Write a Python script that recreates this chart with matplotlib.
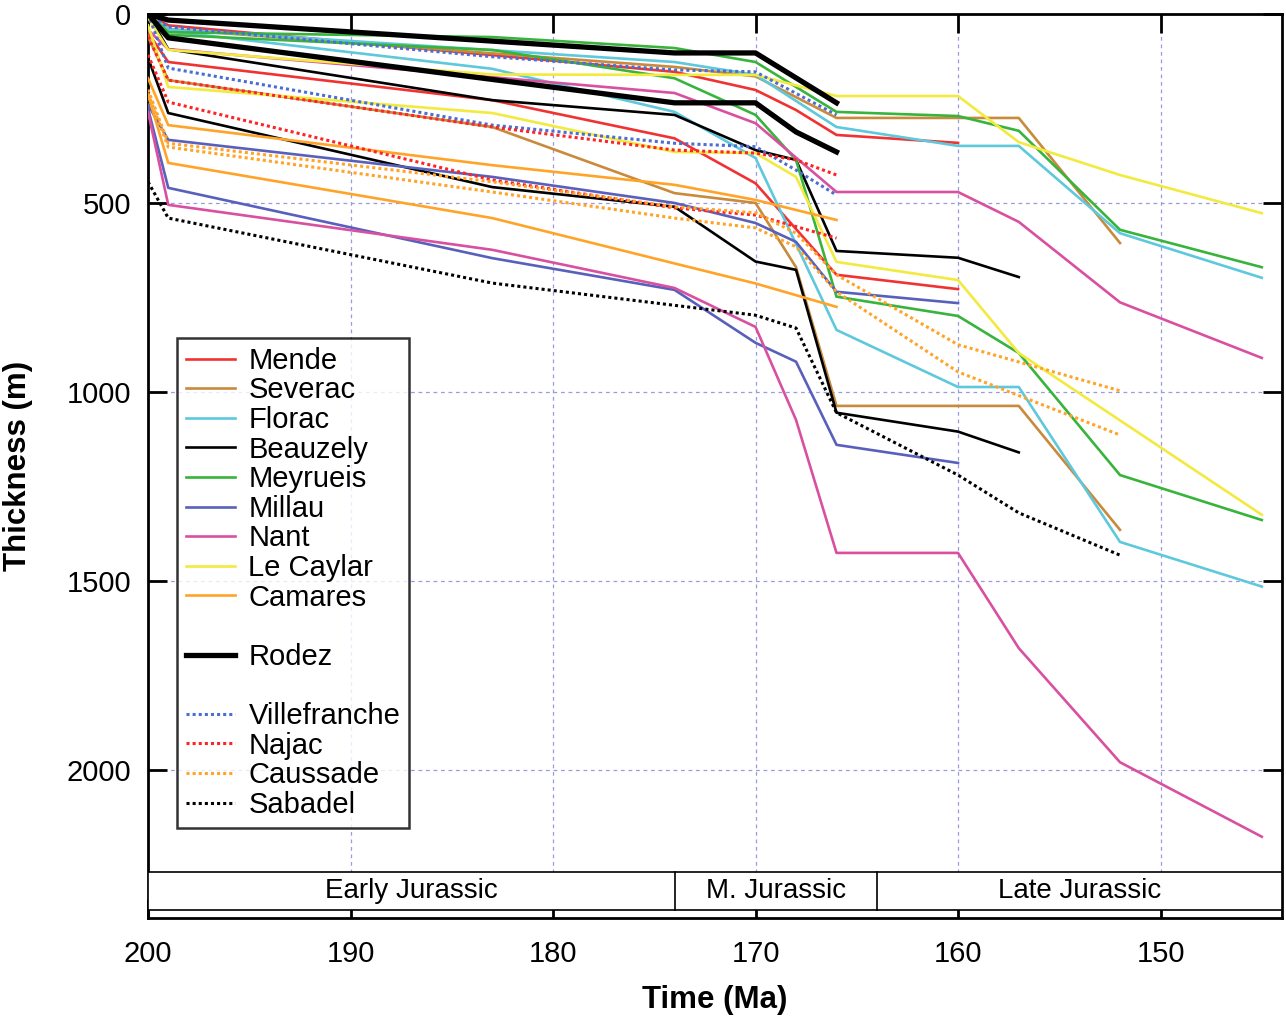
import matplotlib
matplotlib.use("Agg")
import matplotlib.pyplot as plt
from matplotlib.lines import Line2D
from matplotlib.patches import Rectangle

plt.rcParams['font.family'] = ['Liberation Sans', 'DejaVu Sans']

# ages (Ma) and thickness (m) for each section
mende_a_t = [200, 199, 174, 170, 168, 166, 160]
mende_a = [0, 30, 153, 201, 254, 320, 341]
mende_b_t = [200, 199, 183, 174, 170, 166, 160]
mende_b = [50, 127, 228, 329, 448, 690, 728]

severac_a_t = [200, 199, 174, 170, 166, 157, 152]
severac_a = [0, 40, 140, 165, 275, 275, 606]
severac_b_t = [200, 199, 183, 174, 170, 168, 166, 157, 152]
severac_b = [60, 175, 299, 474, 500, 670, 1037, 1037, 1365]

florac_a_t = [200, 199, 174, 170, 166, 160, 157, 152, 145]
florac_a = [0, 40, 127, 161, 299, 349, 349, 580, 698]
florac_b_t = [200, 199, 183, 174, 170, 166, 160, 157, 152, 145]
florac_b = [0, 45, 145, 259, 381, 836, 987, 987, 1397, 1515]

beauzely_a_t = [200, 199, 183, 174, 170, 168, 166, 160, 157]
beauzely_a = [0, 93, 228, 267, 360, 386, 627, 645, 696]
beauzely_b_t = [200, 199, 183, 174, 170, 168, 166, 160, 157]
beauzely_b = [116, 262, 458, 510, 655, 677, 1055, 1105, 1160]

meyrueis_a_t = [200, 199, 183, 174, 170, 166, 160, 157, 152, 145]
meyrueis_a = [0, 48, 61, 90, 127, 259, 270, 309, 571, 670]
meyrueis_b_t = [200, 199, 183, 174, 170, 168, 166, 160, 157, 152, 145]
meyrueis_b = [0, 55, 95, 170, 267, 386, 748, 799, 897, 1220, 1339]

millau_a_t = [200, 199, 183, 174, 170, 168, 166, 160]
millau_a = [240, 333, 431, 500, 553, 603, 735, 765]
millau_b_t = [200, 199, 183, 174, 170, 168, 166, 160]
millau_b = [250, 460, 646, 730, 870, 920, 1140, 1188]

nant_a_t = [200, 199, 174, 170, 166, 160, 157, 152, 145]
nant_a = [42, 93, 209, 289, 471, 471, 550, 763, 910]
nant_b_t = [200, 199, 183, 174, 170, 168, 166, 160, 157, 152, 145]
nant_b = [259, 505, 624, 725, 828, 1074, 1426, 1426, 1678, 1980, 2177]

caylar_a_t = [200, 199, 183, 174, 170, 166, 160, 157, 152, 145]
caylar_a = [10, 95, 160, 161, 161, 217, 217, 339, 426, 527]
caylar_b_t = [200, 199, 183, 174, 170, 168, 166, 160, 157, 145]
caylar_b = [30, 193, 262, 365, 368, 431, 656, 704, 897, 1325]

camares_a_t = [200, 199, 183, 174, 170, 166]
camares_a = [170, 294, 400, 452, 492, 545]
camares_b_t = [200, 199, 183, 174, 170, 166]
camares_b = [214, 394, 540, 660, 713, 775]

rodez_a_t = [200, 199, 174, 170, 166]
rodez_a = [0, 16, 103, 103, 235]
rodez_b_t = [200, 199, 174, 170, 168, 166]
rodez_b = [0, 63, 235, 235, 312, 365]

villef_a_t = [200, 199, 183, 174, 170, 166]
villef_a = [0, 34, 113, 148, 153, 267]
villef_b_t = [200, 199, 183, 174, 170, 168, 166]
villef_b = [0, 143, 294, 342, 351, 413, 479]

najac_a_t = [200, 199, 183, 174, 170, 168, 166]
najac_a = [60, 175, 299, 360, 368, 386, 426]
najac_b_t = [200, 199, 183, 174, 170, 166]
najac_b = [108, 233, 439, 513, 532, 593]

caussade_a_t = [200, 199, 183, 174, 170, 168, 166, 160, 152]
caussade_a = [200, 342, 444, 510, 526, 580, 690, 875, 997]
caussade_b_t = [200, 199, 183, 174, 170, 168, 166, 160, 152]
caussade_b = [210, 352, 471, 540, 566, 616, 735, 947, 1114]

sabadel_t = [200, 199, 183, 170, 168, 166, 160, 157, 152]
sabadel = [444, 540, 712, 797, 831, 1055, 1220, 1320, 1432]

periods = ['Early Jurassic', 'M. Jurassic', 'Late Jurassic']
period_bounds = [200, 174, 164, 144]

x_ticks = [200, 190, 180, 170, 160, 150]
y_ticks = [0, 500, 1000, 1500, 2000]

RED = '#f03232'
BROWN = '#c98a3c'
CYAN = '#5ec8dc'
GREEN = '#38b43c'
BLUE = '#5860bc'
MAGENTA = '#d8509f'
YELLOW = '#f2ea3e'
ORANGE = '#ffa428'
DBLUE = '#4a6ed4'
DRED = '#ff2424'

fig = plt.figure(figsize=(12.86, 10.16), dpi=100)
ax = fig.add_axes([0.1151, 0.0965, 0.8818, 0.8897])

lw = 1.9
dot = (0, (1, 1))
solid = [
    (mende_a_t, mende_a, RED), (mende_b_t, mende_b, RED),
    (severac_a_t, severac_a, BROWN), (severac_b_t, severac_b, BROWN),
    (florac_a_t, florac_a, CYAN), (florac_b_t, florac_b, CYAN),
    (beauzely_a_t, beauzely_a, 'black'), (beauzely_b_t, beauzely_b, 'black'),
    (meyrueis_a_t, meyrueis_a, GREEN), (meyrueis_b_t, meyrueis_b, GREEN),
    (millau_a_t, millau_a, BLUE), (millau_b_t, millau_b, BLUE),
    (nant_a_t, nant_a, MAGENTA), (nant_b_t, nant_b, MAGENTA),
    (caylar_a_t, caylar_a, YELLOW), (caylar_b_t, caylar_b, YELLOW),
    (camares_a_t, camares_a, ORANGE), (camares_b_t, camares_b, ORANGE),
]
dotted = [
    (villef_a_t, villef_a, DBLUE), (villef_b_t, villef_b, DBLUE),
    (najac_a_t, najac_a, DRED), (najac_b_t, najac_b, DRED),
    (caussade_a_t, caussade_a, ORANGE), (caussade_b_t, caussade_b, ORANGE),
    (sabadel_t, sabadel, 'black'),
]

# grid (stops at the period band)
for xv in x_ticks[1:]:
    ax.plot([xv, xv], [0, 2270], color='#9a9ae0', lw=0.9, ls=(0, (3, 3)), zorder=1)
for yv in y_ticks[1:]:
    ax.axhline(yv, color='#9a9ae0', lw=0.9, ls=(0, (3, 3)), zorder=1)

for t, d, c in solid:
    ax.plot(t, d, color=c, lw=lw, zorder=3)
for t, d, c in dotted:
    ax.plot(t, d, color=c, lw=2.2, ls=dot, zorder=3)
ax.plot(rodez_a_t, rodez_a, color='black', lw=3.8, zorder=4)
ax.plot(rodez_b_t, rodez_b, color='black', lw=3.8, zorder=4)

# period band
band_top, band_bot = 2270, 2370
ax.add_patch(Rectangle((period_bounds[-1], band_top), period_bounds[0] - period_bounds[-1],
                       band_bot - band_top, facecolor='white', edgecolor='black', lw=1.2, zorder=5))
for b in period_bounds[1:-1]:
    ax.plot([b, b], [band_top, band_bot], color='black', lw=1.2, zorder=6)
for name, x0, x1 in zip(periods, period_bounds[:-1], period_bounds[1:]):
    ax.text((x0 + x1) / 2, (band_top + band_bot) / 2, name, ha='center', va='center',
            fontsize=20, zorder=7)

ax.set_xlim(200, 144)
ax.set_ylim(2392, 0)
ax.set_xticks(x_ticks)
ax.set_yticks(y_ticks)
ax.tick_params(direction='in', length=14, width=2, labelsize=21, top=True, right=True, pad=12)
ax.tick_params(axis='x', pad=16)
for s in ax.spines.values():
    s.set_linewidth(2)
ax.set_xlabel('Time (Ma)', fontsize=22.5, fontweight='bold', labelpad=12)
ax.set_ylabel('Thickness (m)', fontsize=22.5, fontweight='bold', labelpad=24)

blank = Line2D([], [], color='none')
handles = [
    Line2D([], [], color=RED, lw=lw), Line2D([], [], color=BROWN, lw=lw),
    Line2D([], [], color=CYAN, lw=lw), Line2D([], [], color='black', lw=lw),
    Line2D([], [], color=GREEN, lw=lw), Line2D([], [], color=BLUE, lw=lw),
    Line2D([], [], color=MAGENTA, lw=lw), Line2D([], [], color=YELLOW, lw=lw),
    Line2D([], [], color=ORANGE, lw=lw), blank,
    Line2D([], [], color='black', lw=3.8), blank,
    Line2D([], [], color=DBLUE, lw=2.2, ls=dot),
    Line2D([], [], color=DRED, lw=2.2, ls=dot),
    Line2D([], [], color=ORANGE, lw=2.2, ls=dot),
    Line2D([], [], color='black', lw=2.2, ls=dot),
]
labels = ['Mende', 'Severac', 'Florac', 'Beauzely', 'Meyrueis', 'Millau', 'Nant',
          'Le Caylar', 'Camares', '', 'Rodez', '', 'Villefranche', 'Najac',
          'Caussade', 'Sabadel']
leg = ax.legend(handles, labels, loc='upper left', bbox_to_anchor=(0.0255, 0.6415),
                fontsize=21, frameon=True, fancybox=False, edgecolor='black',
                handlelength=1.7, handletextpad=0.45, labelspacing=0.055,
                borderpad=0.3, borderaxespad=0)
leg.get_frame().set_linewidth(1.8)
leg.set_zorder(10)

fig.savefig('out.png', dpi=100)
